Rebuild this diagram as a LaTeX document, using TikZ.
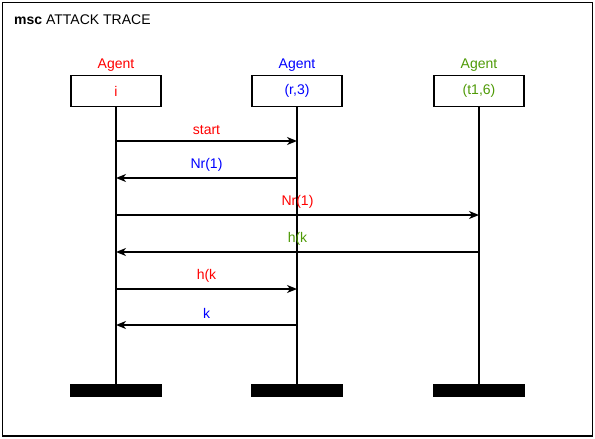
\documentclass[tikz,border=0pt]{standalone}
\usepackage{fontspec}
\setmainfont{Liberation Sans}
\usetikzlibrary{arrows.meta}
\definecolor{agred}{RGB}{255,0,0}
\definecolor{agblue}{RGB}{0,0,255}
\definecolor{aggreen}{RGB}{78,154,6}
\tikzset{
  lbl/.style={font=\fontsize{14}{16}\selectfont, inner sep=0pt},
  instbox/.style={draw, line width=1.5pt, minimum width=90pt, minimum height=31pt, inner sep=0pt, font=\fontsize{14}{16}\selectfont},
  endbar/.style={fill=black, minimum width=92pt, minimum height=13pt, inner sep=0pt},
  lifeline/.style={line width=1.5pt},
  msg/.style={line width=1.5pt, -{Stealth[length=10pt,width=8pt,inset=3pt]}},
}
\begin{document}
\begin{tikzpicture}[x=1pt,y=-1pt]
\useasboundingbox (0,0) rectangle (595,439);
% frame and title
\draw[line width=1.5pt] (2.5,2.5) rectangle (592.5,436);
\node[lbl, anchor=west] (title) at (14,20) {\textbf{msc} ATTACK TRACE};
% instance headers
\node[lbl, text=agred]  (ha) at (116,65.5) {Agent};
\node[lbl, text=agblue] (hb) at (297,65.5) {Agent};
\node[lbl, text=aggreen](hc) at (479,65.5) {Agent};
\node[instbox, text=agred]   (i)  at (116,91) {i};
\node[instbox, text=agblue]  (r)  at (297,91) {(r,3)};
\node[instbox, text=aggreen] (t)  at (479,91) {(t1,6)};
% instance ends
\node[endbar] (ei) at (116,390.5) {};
\node[endbar] (er) at (297,390.5) {};
\node[endbar] (et) at (479,390.5) {};
% lifelines
\draw[lifeline] (i.south) -- (ei.north);
\draw[lifeline] (r.south) -- (er.north);
\draw[lifeline] (t.south) -- (et.north);
% message anchors on the lifelines
\coordinate (i1) at (116,141);   \coordinate (r1) at (297,141);
\coordinate (i2) at (116,178);   \coordinate (r2) at (297,178);
\coordinate (i3) at (116,215);   \coordinate (t3) at (479,215);
\coordinate (i4) at (116,252);   \coordinate (t4) at (479,252);
\coordinate (i5) at (116,289);   \coordinate (r5) at (297,289);
\coordinate (i6) at (116,325);   \coordinate (r6) at (297,325);
% messages
\draw[msg] (i1) -- node[lbl, above=5.5pt, text=agred] (m1) {start} (r1);
\draw[msg] (r2) -- node[lbl, above=5.5pt, text=agblue] (m2) {Nr(1)} (i2);
\draw[msg] (i3) -- node[lbl, above=5.5pt, text=agred] (m3) {Nr(1)} (t3);
\draw[msg] (t4) -- node[lbl, above=5.5pt, text=aggreen] (m4) {h(k} (i4);
\draw[msg] (i5) -- node[lbl, above=5.5pt, text=agred] (m5) {h(k} (r5);
\draw[msg] (r6) -- node[lbl, above=5.5pt, text=agblue] (m6) {k} (i6);
\end{tikzpicture}
\end{document}
